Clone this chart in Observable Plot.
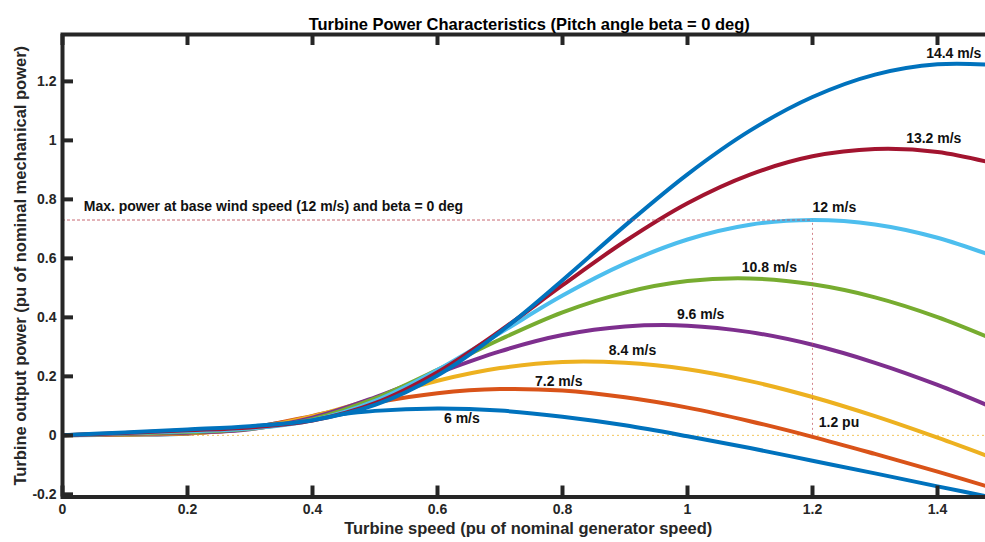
<!DOCTYPE html>
<html><head><meta charset="utf-8">
<script src="https://cdn.jsdelivr.net/npm/d3@7"></script>
<script src="https://cdn.jsdelivr.net/npm/@observablehq/plot@0.6"></script>
<style>
html,body{margin:0;padding:0;overflow:hidden;background:#fff;}
#chart svg{max-width:none !important;}
</style>
</head><body><div id="chart"></div>
<script>
// Turbine speed (pu of nominal generator speed)
const speed = [0, 0.1, 0.2, 0.3, 0.4, 0.5, 0.6, 0.7, 0.8, 0.9, 1.0, 1.1, 1.2, 1.3, 1.4, 1.5];
// Turbine output power (pu) per wind speed
const power6_0  = [0, 0.002, 0.006, 0.028, 0.059, 0.083, 0.091, 0.084, 0.063, 0.034, -0.003, -0.043, -0.086, -0.129, -0.173, -0.216];
const power7_2  = [0, 0.003, 0.006, 0.025, 0.066, 0.111, 0.143, 0.157, 0.152, 0.129, 0.094, 0.048, -0.005, -0.063, -0.123, -0.186];
const power8_4  = [0, 0.003, 0.007, 0.023, 0.065, 0.125, 0.185, 0.228, 0.249, 0.246, 0.224, 0.184, 0.130, 0.065, -0.008, -0.086];
const power9_6  = [0, 0.005, 0.009, 0.021, 0.060, 0.129, 0.211, 0.285, 0.340, 0.369, 0.372, 0.350, 0.307, 0.246, 0.171, 0.084];
const power10_8 = [0, 0.006, 0.011, 0.022, 0.055, 0.125, 0.222, 0.325, 0.417, 0.484, 0.523, 0.532, 0.512, 0.468, 0.401, 0.316];
const power12_0 = [0, 0.007, 0.014, 0.023, 0.051, 0.117, 0.222, 0.347, 0.474, 0.582, 0.664, 0.714, 0.730, 0.715, 0.670, 0.599];
const power13_2 = [0, 0.008, 0.017, 0.027, 0.050, 0.109, 0.214, 0.354, 0.509, 0.658, 0.787, 0.884, 0.946, 0.971, 0.961, 0.917];
const power14_4 = [0, 0.010, 0.020, 0.031, 0.051, 0.103, 0.203, 0.350, 0.526, 0.711, 0.885, 1.033, 1.147, 1.223, 1.258, 1.255];

const windLabels = ["6 m/s", "7.2 m/s", "8.4 m/s", "9.6 m/s", "10.8 m/s", "12 m/s", "13.2 m/s", "14.4 m/s"];
// label anchor points (data units)
const labelSpeed = [0.639, 0.794, 0.912, 1.021, 1.131, 1.235, 1.394, 1.426];
const labelPower = [0.058, 0.181, 0.288, 0.410, 0.569, 0.773, 1.007, 1.295];

const xTicks = [0, 0.2, 0.4, 0.6, 0.8, 1, 1.2, 1.4];
const yTicks = [-0.2, 0, 0.2, 0.4, 0.6, 0.8, 1, 1.2];

const maxPower = 0.73;     // max power at base wind speed
const ratedSpeed = 1.2;    // pu
const maxPowerNote = "Max. power at base wind speed (12 m/s) and beta = 0 deg";
const ratedNote = "1.2 pu";
const titleText = "Turbine Power Characteristics (Pitch angle beta = 0 deg)";
const xTitle = "Turbine speed (pu of nominal generator speed)";
const yTitle = "Turbine output power (pu of nominal mechanical power)";

const series = [power6_0, power7_2, power8_4, power9_6, power10_8, power12_0, power13_2, power14_4];
const lineColors = ["#0072BD", "#D95319", "#EDB120", "#7E2F8E", "#77AC30", "#4DBEEE", "#A2142F", "#0072BD"];

const W = 1003, H = 542;
const mL = 62, mR = 3.5, mT = 34, mB = 45.5;
const fw = W - mL - mR, fh = H - mT - mB;
const tickLen = 11;
const ink = "#262626";
const font = "Liberation Sans, Arial, Helvetica, sans-serif";

const marks = [];
marks.push(Plot.ruleY([0], {stroke: "#EDB120", strokeOpacity: 0.75, strokeDasharray: "2,3", strokeWidth: 1}));
series.forEach((vals, i) => {
  const rows = speed.map((s, j) => ({s, p: vals[j]}));
  marks.push(Plot.line(rows, {x: "s", y: "p", stroke: lineColors[i], strokeWidth: 4, curve: "catmull-rom", clip: true}));
});
marks.push(Plot.ruleY([maxPower], {x1: 0, x2: ratedSpeed, stroke: "#c0505a", strokeOpacity: 0.85, strokeDasharray: "3,2", strokeWidth: 1}));
marks.push(Plot.ruleX([ratedSpeed], {y1: 0, y2: maxPower, stroke: "#c0505a", strokeOpacity: 0.7, strokeDasharray: "2,3", strokeWidth: 1}));

marks.push(Plot.text(windLabels, {x: (d, i) => labelSpeed[i], y: (d, i) => labelPower[i], text: d => d,
  fontSize: 14, fontWeight: "bold", fill: "#111"}));
marks.push(Plot.text([maxPowerNote], {x: 0.034, y: 0.776, text: d => d, textAnchor: "start",
  fontSize: 14, fontWeight: "bold", fill: "#111"}));
marks.push(Plot.text([ratedNote], {x: 1.21, y: 0.044, text: d => d, textAnchor: "start",
  fontSize: 14, fontWeight: "bold", fill: "#111"}));

// inward ticks (MATLAB style box)
marks.push(Plot.ruleX(xTicks, {x: d => d, insetTop: fh - tickLen, stroke: ink, strokeWidth: 4}));
marks.push(Plot.ruleX(xTicks, {x: d => d, insetBottom: fh - tickLen, stroke: ink, strokeWidth: 4}));
marks.push(Plot.ruleY(yTicks, {y: d => d, insetRight: fw - tickLen, stroke: ink, strokeWidth: 4}));
marks.push(Plot.ruleY(yTicks, {y: d => d, insetLeft: fw - tickLen, stroke: ink, strokeWidth: 4}));
marks.push(Plot.frame({stroke: ink, strokeWidth: 4}));

// tick labels
marks.push(Plot.text(xTicks, {x: d => d, frameAnchor: "bottom", dy: 17, text: d => String(d),
  fontSize: 14, fontWeight: "bold", fill: ink}));
marks.push(Plot.text(yTicks, {y: d => d, frameAnchor: "left", dx: -6, textAnchor: "end", text: d => String(d),
  fontSize: 14, fontWeight: "bold", fill: ink}));

// titles
marks.push(Plot.text([titleText], {frameAnchor: "top", dx: -2, dy: -16, text: d => d,
  fontSize: 16.5, fontWeight: "bold", fill: "#000"}));
marks.push(Plot.text([xTitle], {frameAnchor: "bottom", dx: -3, dy: 36.5, text: d => d,
  fontSize: 16.5, fontWeight: "bold", fill: ink}));
marks.push(Plot.text([yTitle], {frameAnchor: "left", dx: -42, rotate: -90, textAnchor: "middle", text: d => d,
  fontSize: 16.5, fontWeight: "bold", fill: ink}));

const chart = Plot.plot({
  width: W, height: H,
  marginLeft: mL, marginRight: mR, marginTop: mT, marginBottom: mB,
  x: {domain: [0, 1.5], axis: null},
  y: {domain: [-0.209, 1.359], axis: null},
  style: {fontFamily: font, background: "#fff", maxWidth: "none"},
  marks
});
chart.style.maxWidth = "none";
document.getElementById("chart").appendChild(chart);
</script>
</body></html>
